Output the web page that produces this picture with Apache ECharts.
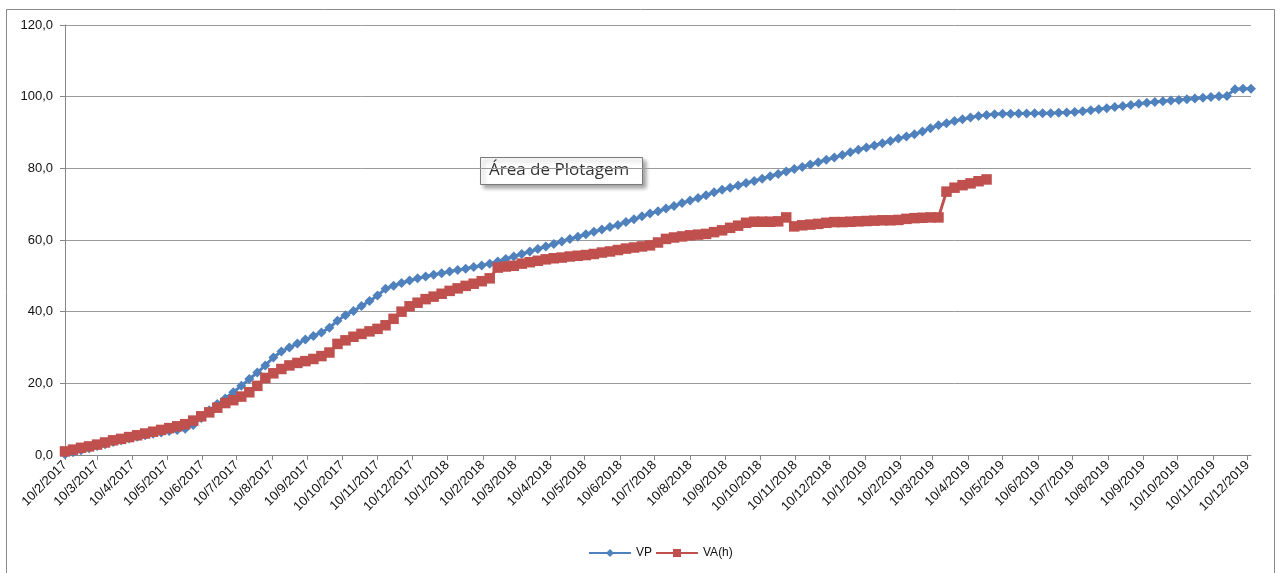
<!DOCTYPE html>
<html>
<head>
<meta charset="utf-8">
<script src="https://cdn.jsdelivr.net/npm/echarts@6/dist/echarts.min.js"></script>
<style>
html,body{margin:0;padding:0;background:#fff;}
#c{width:1281px;height:573px;}
</style>
</head>
<body>
<div id="c"></div>
<script>
// Weekly observations starting 10/2/2017 (Fridays)
var startDate = [2017, 1, 10];
var seriesNames = ['VP', 'VA(h)'];
var VP = [0.2,0.8,1.3,1.9,2.5,3.0,3.6,4.1,4.6,5.1,5.5,5.9,6.3,6.7,7.0,7.3,8.4,10.3,12.5,14.2,
  15.8,17.5,19.3,21.2,23.0,25.0,27.2,28.9,30.0,31.1,32.2,33.2,34.2,35.5,37.5,39.0,40.2,41.6,43.0,44.5,
  46.4,47.2,48.0,48.7,49.3,49.8,50.3,50.7,51.2,51.6,52.0,52.5,52.9,53.4,54.0,54.7,55.4,56.1,56.8,57.5,
  58.2,58.9,59.6,60.3,60.9,61.6,62.3,62.9,63.6,64.2,65.0,65.8,66.6,67.4,68.0,68.8,69.5,70.3,71.0,71.7,
  72.5,73.3,74.0,74.6,75.2,75.9,76.5,77.1,77.8,78.4,79.1,79.8,80.4,81.1,81.7,82.4,83.0,83.7,84.5,85.2,
  85.8,86.4,87.0,87.6,88.3,88.9,89.5,90.3,91.2,92.0,92.6,93.2,93.7,94.2,94.6,94.9,95.1,95.2,95.2,95.3,
  95.3,95.4,95.4,95.4,95.5,95.6,95.7,95.9,96.2,96.5,96.8,97.1,97.4,97.7,98.0,98.3,98.5,98.7,98.9,99.1,
  99.3,99.5,99.7,99.9,100.1,100.2,102.1,102.2,102.2];
var VAh = [1.0,1.5,2.0,2.4,2.9,3.5,4.1,4.5,5.0,5.5,6.0,6.5,7.0,7.5,8.0,8.6,9.6,10.8,11.9,13.2,
  14.5,15.3,16.3,17.5,19.3,21.5,22.8,24.0,25.0,25.7,26.2,26.8,27.6,28.6,31.0,32.0,33.0,33.8,34.5,35.2,
  36.2,38.0,40.0,41.5,42.5,43.5,44.2,45.0,45.8,46.5,47.2,47.8,48.5,49.3,52.3,52.6,52.8,53.4,53.8,54.2,
  54.6,54.9,55.1,55.4,55.6,55.8,56.1,56.5,56.8,57.2,57.6,57.9,58.2,58.5,59.3,60.3,60.7,61.0,61.3,61.5,
  61.7,62.2,62.7,63.4,64.0,64.8,65.1,65.1,65.1,65.2,66.3,63.8,64.1,64.3,64.5,64.8,65.0,65.0,65.1,65.2,
  65.3,65.4,65.5,65.5,65.6,65.9,66.1,66.2,66.3,66.3,73.5,74.6,75.3,75.8,76.4,76.9];

var DAY = 86400000;
var t0 = new Date(startDate[0], startDate[1], startDate[2]).getTime();
function dayOf(y, m, d) { return Math.round((new Date(y, m, d).getTime() - t0) / DAY); }
function labelOf(day) { var d = new Date(startDate[0], startDate[1], startDate[2] + day); return d.getDate() + '/' + (d.getMonth() + 1) + '/' + d.getFullYear(); }
// Month ticks on the 10th of each month, Feb 2017 .. Dec 2019 (as day offsets)
var monthTicks = [];
for (var y = 2017; y <= 2019; y++) {
  for (var m = 0; m < 12; m++) {
    if (y === 2017 && m < 1) continue;
    monthTicks.push(dayOf(y, m, 10));
  }
}
var xMax = 7 * (VP.length - 1);

var font = 'Liberation Sans';
var chart = echarts.init(document.getElementById('c'));
chart.setOption({
  animation: false,
  textStyle: { fontFamily: font },
  grid: { left: 65, right: 30, top: 25, bottom: 118, containLabel: false },
  xAxis: {
    type: 'value', min: 0, max: xMax,
    axisLine: { lineStyle: { color: '#868686', width: 1 } },
    axisTick: { show: true, customValues: monthTicks, length: 5, lineStyle: { color: '#868686' } },
    axisLabel: {
      customValues: monthTicks, rotate: 45, fontSize: 13, color: '#111', fontFamily: font, margin: 8,
      hideOverlap: false, showMinLabel: true, showMaxLabel: true,
      formatter: function (v) { return labelOf(v); }
    },
    splitLine: { show: false }
  },
  yAxis: {
    type: 'value', min: 0, max: 120, interval: 20,
    axisLine: { show: true, lineStyle: { color: '#868686' } },
    axisTick: { show: true, length: 5, lineStyle: { color: '#868686' } },
    axisLabel: { fontSize: 13, color: '#111', fontFamily: font, margin: 12,
      formatter: function (v) { return v.toFixed(1).replace('.', ','); } },
    splitLine: { lineStyle: { color: '#9a9a9a', width: 1 } }
  },
  legend: {
    left: 583, top: 542, itemWidth: 42, itemHeight: 10, itemGap: 3,
    textStyle: { fontSize: 12, color: '#111', fontFamily: font },
    data: seriesNames
  },
  series: [
    { name: seriesNames[0], type: 'line', data: VP.map(function (v, i) { return [7 * i, v]; }),
      symbol: 'diamond', symbolSize: 10, showAllSymbol: true,
      itemStyle: { color: '#4F81BD' }, lineStyle: { color: '#4F81BD', width: 3 } },
    { name: seriesNames[1], type: 'line', data: VAh.map(function (v, i) { return [7 * i, v]; }),
      symbol: 'rect', symbolSize: 10.5, showAllSymbol: true,
      itemStyle: { color: '#C0504D' }, lineStyle: { color: '#C0504D', width: 3 } }
  ],
  graphic: [
    { type: 'rect', shape: { x: 6.5, y: 9.5, width: 1268, height: 580 }, style: { fill: 'none', stroke: '#8a8a8a', lineWidth: 1 }, z: 0, silent: true },
    { type: 'group', z: 100, children: [
      { type: 'rect', shape: { x: 480.5, y: 157.5, width: 162, height: 27 },
        style: { fill: '#fff', stroke: '#7a7a7a', lineWidth: 1, shadowBlur: 4, shadowOffsetX: 3, shadowOffsetY: 3, shadowColor: 'rgba(0,0,0,0.35)' } },
      { type: 'text', x: 489, y: 162, style: { text: 'Área de Plotagem', fontSize: 17, fontFamily: 'Open Sans', fill: '#333' } }
    ] }
  ]
});
</script>
</body>
</html>
